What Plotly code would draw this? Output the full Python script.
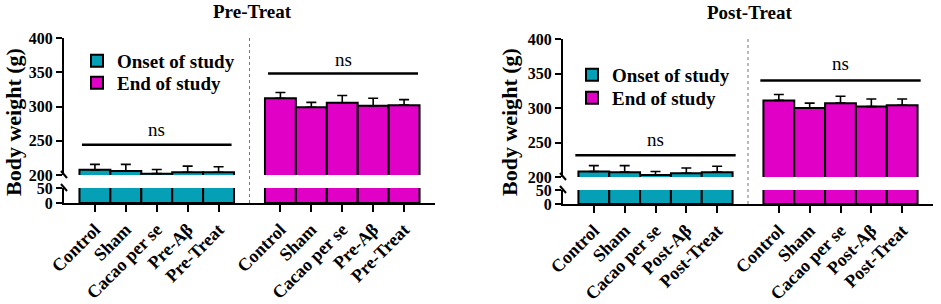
import plotly.graph_objects as go

W, H = 941, 304

# ---------------- data ----------------
pre_groups = ["Control", "Sham", "Cacao per se", "Pre-Aβ", "Pre-Treat"]
post_groups = ["Control", "Sham", "Cacao per se", "Post-Aβ", "Post-Treat"]

pre_onset = [207.5, 206, 202, 204, 204]
pre_onset_err = [8, 9.5, 6, 9, 8]
pre_end = [312, 299, 305.5, 301, 302]
pre_end_err = [8.5, 7, 10.5, 11, 8]

post_onset = [208, 207, 203, 205.5, 207]
post_onset_err = [8.5, 9.5, 5, 7.5, 8.5]
post_end = [311, 300, 307, 302, 304]
post_end_err = [8.5, 7, 10, 11, 9]

series_names = ["Onset of study", "End of study"]
upper_ticks = [200, 250, 300, 350, 400]
lower_ticks = [0, 50]

TEAL = "#05A0B6"
MAGENTA = "#E000C6"
FONT = "Liberation Serif, serif"


def px(x):
    return x / W


def py(y):
    return 1 - y / H


def bfont(size, weight="bold"):
    return dict(family=FONT, size=size, color="black", weight=weight)


fig = go.Figure()

panels = [
    dict(groups=pre_groups, onset=pre_onset, onset_err=pre_onset_err, end=pre_end, end_err=pre_end_err,
         xl=64, xr=435, low=(203, 188), up=(175, 38), title="Pre-Treat", tx=253, ty=11,
         ytx=13, legends=("legend", "legend2"), lx=77, ly=(42, 64),
         ns=[(-0.42, 4.42, 244, 266), (5.6, 10.45, 348, 368)]),
    dict(groups=post_groups, onset=post_onset, onset_err=post_onset_err, end=post_end, end_err=post_end_err,
         xl=563, xr=933, low=(204, 190), up=(177, 39), title="Post-Treat", tx=749, ty=12,
         ytx=509, legends=("legend3", "legend4"), lx=572, ly=(56, 79),
         ns=[(-0.6, 4.6, 231.6, 254), (5.4, 10.6, 340, 364.5)]),
]

layout_axes = {}
legends = {}
shapes = []
annotations = []

for i, p in enumerate(panels):
    n = len(p["groups"])
    xs_onset = list(range(n))
    xs_end = [n + 1 + k for k in range(n)]
    xa_low = "x" if i == 0 else "x3"
    ya_low = "y" if i == 0 else "y3"
    xa_up = "x2" if i == 0 else "x4"
    ya_up = "y2" if i == 0 else "y4"
    key = lambda a: ("xaxis" if a[0] == "x" else "yaxis") + a[1:]

    for j, (xs, vals, errs, color, name) in enumerate([
        (xs_onset, p["onset"], p["onset_err"], TEAL, series_names[0]),
        (xs_end, p["end"], p["end_err"], MAGENTA, series_names[1]),
    ]):
        marker = dict(color=color, line=dict(color="black", width=2))
        lg = p["legends"][j]
        fig.add_trace(go.Bar(x=xs, y=vals, width=1.0, marker=marker, xaxis=xa_low, yaxis=ya_low,
                             name=name, showlegend=False, legend=lg, hoverinfo="skip"))
        fig.add_trace(go.Bar(x=xs, y=vals, width=1.0, marker=marker, xaxis=xa_up, yaxis=ya_up,
                             name=name, showlegend=True, legend=lg,
                             error_y=dict(type="data", array=errs, arrayminus=[0] * n, symmetric=False,
                                          color="black", thickness=1.6, width=5)))
        legends[lg] = dict(x=px(p["lx"]), y=py(p["ly"][j]), xanchor="left", yanchor="top",
                           font=bfont(19), bgcolor="rgba(0,0,0,0)", itemwidth=30)

    dom_x = [px(p["xl"]), px(p["xr"])]
    tickvals = xs_onset + xs_end
    ticktext = p["groups"] + p["groups"]
    layout_axes[key(xa_low)] = dict(domain=dom_x, anchor=ya_low, range=[-1, 2 * n + 1],
                                    tickvals=tickvals, ticktext=ticktext, tickangle=-45,
                                    showline=True, linecolor="black", linewidth=2,
                                    ticks="outside", ticklen=7, tickwidth=2, tickcolor="black",
                                    tickfont=bfont(18), automargin=False,
                                    showgrid=False, zeroline=False, fixedrange=True)
    layout_axes[key(xa_up)] = dict(domain=dom_x, anchor=ya_up, matches=xa_low, visible=False,
                                   showgrid=False, zeroline=False)
    layout_axes[key(ya_low)] = dict(domain=[py(p["low"][0]), py(p["low"][1])], anchor=xa_low,
                                    range=[0, 50], tickvals=lower_ticks,
                                    showline=True, linecolor="black", linewidth=2,
                                    ticks="outside", ticklen=6, tickwidth=2, tickcolor="black",
                                    tickfont=bfont(16), automargin=False,
                                    showgrid=False, zeroline=False)
    layout_axes[key(ya_up)] = dict(domain=[py(p["up"][0]), py(p["up"][1])], anchor=xa_up,
                                   range=[200, 400], tickvals=upper_ticks,
                                   showline=True, linecolor="black", linewidth=2,
                                   ticks="outside", ticklen=6, tickwidth=2, tickcolor="black",
                                   tickfont=bfont(16), automargin=False,
                                   showgrid=False, zeroline=False)

    shapes.append(dict(type="line", xref=xa_low, yref="paper", x0=n, x1=n,
                       y0=py(p["low"][0]), y1=py(p["up"][1]),
                       line=dict(color="#777777", width=1, dash="dot")))
    for yb in (p["up"][0], p["low"][1]):
        shapes.append(dict(type="line", xref="paper", yref="paper",
                           x0=px(p["xl"] - 3), x1=px(p["xl"] + 3), y0=py(yb - 4), y1=py(yb + 3),
                           line=dict(color="black", width=2)))
    for (x0, x1, yl, yt) in p["ns"]:
        shapes.append(dict(type="line", xref=xa_up, yref=ya_up, x0=x0, x1=x1, y0=yl, y1=yl,
                           line=dict(color="black", width=2.5)))
        annotations.append(dict(text="ns", x=(x0 + x1) / 2, y=yt, xref=xa_up, yref=ya_up,
                                showarrow=False, font=bfont(19, "normal")))
    annotations.append(dict(text=p["title"], x=px(p["tx"]), y=py(p["ty"]), xref="paper", yref="paper",
                            showarrow=False, xanchor="center", yanchor="middle", font=bfont(19)))
    annotations.append(dict(text="Body weight (g)", x=px(p["ytx"]), y=py(122), xref="paper", yref="paper",
                            showarrow=False, textangle=-90, xanchor="center", yanchor="middle",
                            font=bfont(22)))

fig.update_layout(
    width=W, height=H,
    margin=dict(l=0, r=0, t=0, b=0),
    paper_bgcolor="white", plot_bgcolor="white",
    barmode="overlay",
    showlegend=True,
    font=dict(family=FONT),
    shapes=shapes,
    annotations=annotations,
    **legends,
    **layout_axes,
)

fig.write_html("out.html", config={"displayModeBar": False},
               post_script="document.body.style.margin='0';document.body.style.padding='0';")
